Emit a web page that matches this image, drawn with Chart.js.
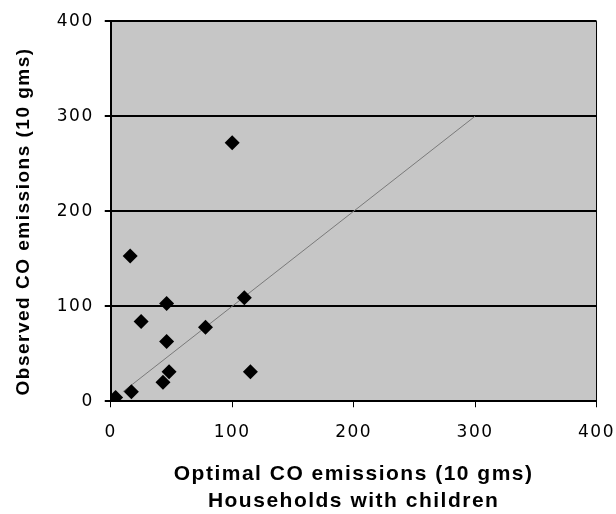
<!DOCTYPE html>
<html>
<head>
<meta charset="utf-8">
<script src="https://cdn.jsdelivr.net/npm/chart.js@4"></script>
<style>
  html, body { margin: 0; padding: 0; background: #ffffff; }
  #c { display: block; }
</style>
</head>
<body>
<canvas id="c" width="616" height="514"></canvas>
<script>
// Data
const optimalCO  = [4, 17, 43, 48, 115, 46, 78, 25, 46, 110, 16, 100];
const observedCO = [4, 10, 20, 31, 31, 63, 78, 84, 103, 109, 153, 272];
const refLineX = [10, 300];
const refLineY = [10, 300];
const xTitleLines = ['Optimal CO emissions (10 gms)', 'Households with children'];
const yTitleText = 'Observed CO emissions (10 gms)   ';

const TITLE_FONT = 'Liberation Sans';
const TICK_FONT = 'DejaVu Sans';
const SPACING = '1.5px';

Chart.defaults.font.family = TITLE_FONT;
Chart.defaults.font.size = 17;
Chart.defaults.color = '#000000';

const points = optimalCO.map((x, i) => ({ x: x, y: observedCO[i] }));
const linePts = refLineX.map((x, i) => ({ x: x, y: refLineY[i] }));

const plotStyle = {
  id: 'plotStyle',
  beforeUpdate(chart) { chart.ctx.letterSpacing = SPACING; },
  beforeLayout(chart) { chart.ctx.letterSpacing = SPACING; },
  beforeDraw(chart) {
    const ctx = chart.ctx;
    ctx.letterSpacing = SPACING;
    const a = chart.chartArea;
    ctx.save();
    ctx.fillStyle = '#c6c6c6';
    ctx.fillRect(a.left, a.top, a.right - a.left, a.bottom - a.top);
    ctx.restore();
  },
  beforeDatasetsDraw(chart) {
    const ctx = chart.ctx;
    const a = chart.chartArea;
    ctx.save();
    ctx.strokeStyle = '#000000';
    ctx.lineWidth = 1;
    ctx.beginPath();
    ctx.moveTo(a.right, a.top);
    ctx.lineTo(a.right, a.bottom);
    ctx.stroke();
    ctx.restore();
  }
};

new Chart(document.getElementById('c'), {
  type: 'scatter',
  data: {
    datasets: [
      {
        type: 'line',
        data: linePts,
        borderColor: '#7a7a7a',
        borderWidth: 1,
        pointRadius: 0,
        fill: false,
        order: 2
      },
      {
        data: points,
        pointStyle: 'rectRot',
        pointRadius: 7.5,
        pointHoverRadius: 7.5,
        backgroundColor: '#000000',
        borderColor: '#000000',
        borderWidth: 0,
        order: 1
      }
    ]
  },
  options: {
    responsive: false,
    animation: false,
    events: [],
    layout: { padding: { top: 11.5, right: 0, bottom: 0, left: 0 } },
    plugins: {
      legend: { display: false },
      tooltip: { enabled: false }
    },
    scales: {
      x: {
        type: 'linear',
        min: 0, max: 400,
        ticks: {
          stepSize: 100,
          color: '#000000',
          padding: 1,
          font: { family: TICK_FONT, size: 17, lineHeight: 2.9 }
        },
        grid: {
          drawOnChartArea: false,
          drawTicks: true,
          tickLength: 6,
          color: '#000000',
          lineWidth: 1
        },
        border: { display: true, color: '#000000', width: 2 },
        title: {
          display: true,
          text: xTitleLines,
          color: '#000000',
          font: { family: TITLE_FONT, size: 21, weight: 'bold', lineHeight: 1.26 },
          padding: { top: 2.5, bottom: 0 }
        }
      },
      y: {
        type: 'linear',
        min: 0, max: 400,
        ticks: {
          stepSize: 100,
          color: '#000000',
          padding: 11,
          font: { family: TICK_FONT, size: 17, lineHeight: 1.2 }
        },
        grid: {
          drawOnChartArea: true,
          drawTicks: true,
          tickLength: 6,
          color: '#000000',
          lineWidth: 2
        },
        border: { display: true, color: '#000000', width: 2 },
        title: {
          display: true,
          text: yTitleText,
          color: '#000000',
          font: { family: TITLE_FONT, size: 19, weight: 'bold' },
          padding: { top: 12, bottom: 11 }
        }
      }
    }
  },
  plugins: [plotStyle]
});
</script>
</body>
</html>
